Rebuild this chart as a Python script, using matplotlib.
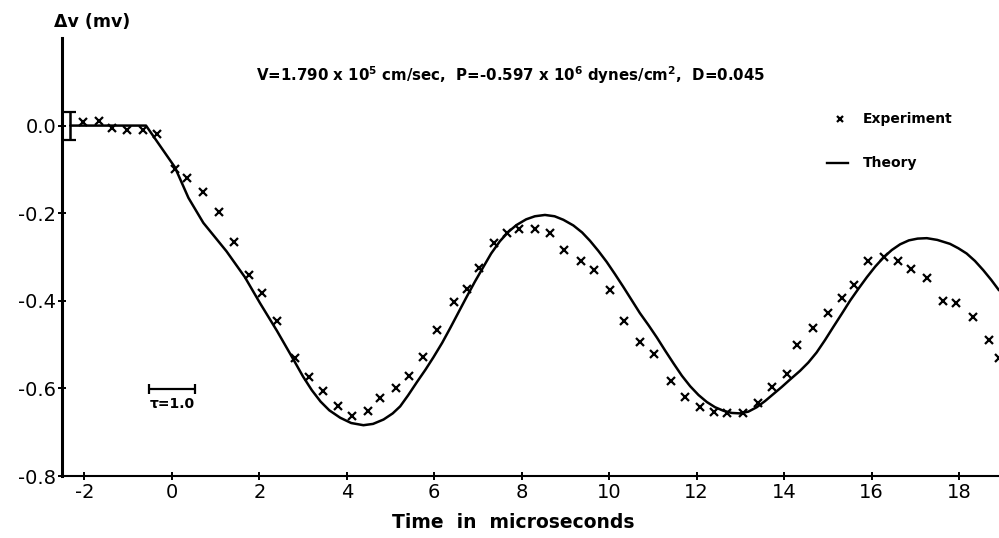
import matplotlib
matplotlib.use("Agg")
import matplotlib.pyplot as plt

plt.rcParams['font.family'] = ['DejaVu Sans']
plt.rcParams['axes.unicode_minus'] = False

# Experimental points (time in microseconds, delta v in mV)
exp_t = [-2.02, -1.66, -1.37, -1.03, -0.67, -0.35, 0.07, 0.34, 0.71, 1.08,
         1.41, 1.76, 2.07, 2.41, 2.82, 3.14, 3.45, 3.79, 4.13, 4.48,
         4.76, 5.12, 5.42, 5.75, 6.07, 6.44, 6.74, 7.02, 7.37, 7.66,
         7.94, 8.30, 8.65, 8.97, 9.36, 9.65, 10.02, 10.34, 10.70, 11.02,
         11.41, 11.73, 12.08, 12.40, 12.70, 13.05, 13.41, 13.71, 14.06, 14.30,
         14.65, 15.01, 15.32, 15.60, 15.92, 16.27, 16.59, 16.89, 17.26, 17.62,
         17.92, 18.32, 18.67, 18.92]
exp_v = [0.008, 0.011, -0.005, -0.010, -0.010, -0.019, -0.099, -0.119, -0.152, -0.198,
         -0.266, -0.342, -0.382, -0.447, -0.530, -0.573, -0.606, -0.640, -0.662, -0.652,
         -0.623, -0.599, -0.572, -0.528, -0.466, -0.403, -0.374, -0.325, -0.267, -0.245,
         -0.237, -0.236, -0.245, -0.285, -0.308, -0.329, -0.376, -0.447, -0.494, -0.522,
         -0.583, -0.619, -0.642, -0.653, -0.656, -0.656, -0.634, -0.596, -0.566, -0.501,
         -0.462, -0.428, -0.393, -0.365, -0.309, -0.300, -0.308, -0.328, -0.347, -0.400,
         -0.406, -0.437, -0.490, -0.530]

# Theory curve
th_t = [-2.32, -0.59, 0.07, 0.38, 0.72, 1.25, 1.67, 2.02, 2.40, 2.78,
        3.0, 3.2, 3.4, 3.6, 3.85, 4.1, 4.38, 4.6, 4.84, 5.05,
        5.22, 5.4, 5.60, 5.8, 5.98, 6.18, 6.36, 6.55, 6.74, 6.93,
        7.12, 7.3, 7.50, 7.7, 7.88, 8.1, 8.3, 8.53, 8.75, 8.95,
        9.18, 9.38, 9.56, 9.75, 9.94, 10.13, 10.32, 10.51, 10.70, 10.9,
        11.09, 11.28, 11.47, 11.66, 11.85, 12.04, 12.23, 12.42, 12.61, 12.8,
        12.99, 13.18, 13.37, 13.56, 13.75, 13.94, 14.13, 14.36, 14.55, 14.74,
        14.93, 15.12, 15.32, 15.51, 15.7, 15.89, 16.08, 16.27, 16.46, 16.65,
        16.85, 17.05, 17.26, 17.5, 17.79, 17.98, 18.17, 18.36, 18.55, 18.73, 18.91]
th_v = [0.0, 0.0, -0.095, -0.165, -0.222, -0.287, -0.346, -0.406, -0.468, -0.534,
        -0.573, -0.604, -0.630, -0.650, -0.667, -0.679, -0.684, -0.681, -0.671, -0.657,
        -0.641, -0.616, -0.586, -0.557, -0.529, -0.496, -0.463, -0.427, -0.391, -0.356,
        -0.323, -0.292, -0.264, -0.242, -0.227, -0.214, -0.207, -0.204, -0.207, -0.215,
        -0.228, -0.244, -0.263, -0.286, -0.311, -0.339, -0.368, -0.398, -0.428, -0.456,
        -0.484, -0.514, -0.543, -0.571, -0.595, -0.615, -0.631, -0.643, -0.651, -0.656,
        -0.657, -0.653, -0.643, -0.629, -0.613, -0.597, -0.580, -0.560, -0.541, -0.518,
        -0.490, -0.460, -0.429, -0.399, -0.372, -0.346, -0.322, -0.301, -0.284, -0.271,
        -0.262, -0.258, -0.257, -0.261, -0.270, -0.280, -0.292, -0.309, -0.330, -0.352, -0.376]

x_ticks = [-2, 0, 2, 4, 6, 8, 10, 12, 14, 16, 18]
y_ticks = [0.0, -0.2, -0.4, -0.6, -0.8]
y_ticklabels = ["0.0", "-0.2", "-0.4", "-0.6", "-0.8"]

err_t, err_v, err_half = -2.32, 0.0, 0.032
tau_start, tau_len, tau_v = -0.52, 1.06, -0.602

fig = plt.figure(figsize=(9.99, 5.38), dpi=100)
ax = fig.add_axes([0.0621, 0.1152, 0.9379, 0.8142])
ax.set_xlim(-2.51, 18.91)
ax.set_ylim(-0.8, 0.2)

ax.plot(th_t, th_v, color='black', lw=1.8, solid_joinstyle='round',
        solid_capstyle='round')
ax.plot(exp_t, exp_v, ls='none', marker='x', ms=6, mew=1.6, color='black')

# error bar
ax.errorbar([err_t], [err_v], yerr=[err_half], fmt='none', ecolor='black',
            elinewidth=1.8, capsize=4, capthick=1.6)
# tau scale bar
ax.errorbar([tau_start + tau_len / 2], [tau_v], xerr=[tau_len / 2], fmt='none',
            ecolor='black', elinewidth=1.6, capsize=3.5, capthick=1.6)
ax.text(tau_start + tau_len / 2, tau_v - 0.017, "τ=1.0", ha='center', va='top',
        fontsize=10, fontweight='bold')

# legend drawn manually
ax.plot([15.28], [0.014], ls='none', marker='x', ms=5, mew=1.6, color='black')
ax.text(15.80, 0.014, "Experiment", ha='left', va='center', fontsize=10,
        fontweight='bold')
ax.plot([14.97, 15.46], [-0.086, -0.086], color='black', lw=1.7)
ax.text(15.80, -0.086, "Theory", ha='left', va='center', fontsize=10,
        fontweight='bold')

for s in ['top', 'right']:
    ax.spines[s].set_visible(False)
ax.spines['left'].set_linewidth(2.2)
ax.spines['bottom'].set_linewidth(1.5)

ax.set_xticks(x_ticks)
ax.set_xticklabels([str(v) for v in x_ticks])
ax.set_yticks(y_ticks)
ax.set_yticklabels(y_ticklabels)
ax.tick_params(axis='x', direction='inout', length=6, width=1.4, labelsize=14, pad=2)
ax.tick_params(axis='y', direction='inout', length=6, width=1.4, labelsize=14, pad=1)

fig.text(92 / 999, 1 - 22 / 538, "Δv (mv)", ha='center', va='center', fontsize=12.5,
         fontweight='bold')
fig.text(511 / 999, 1 - 75 / 538,
         r"V=1.790 x 10$^\mathbf{5}$ cm/sec,  P=-0.597 x 10$^\mathbf{6}$ dynes/cm$^\mathbf{2}$,  D=0.045",
         ha='center', va='center', fontsize=10.8, fontweight='bold')
fig.text(513 / 999, 1 - 523 / 538, "Time  in  microseconds", ha='center', va='center',
         fontsize=13.5, fontweight='bold')

fig.savefig("out.png", dpi=100)
